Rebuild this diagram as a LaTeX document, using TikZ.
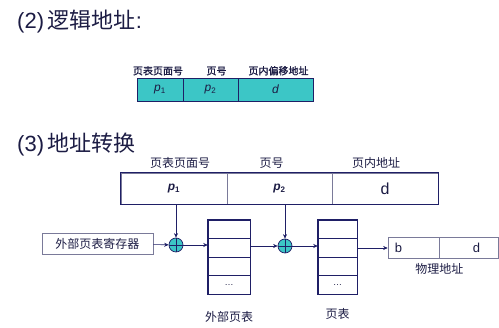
\documentclass[tikz,border=0pt]{standalone}
\usepackage{fontspec}
\setmainfont{Liberation Sans}
\newfontfamily\cjk{Noto Sans CJK SC}
\newfontfamily\cjkbf[FakeBold=1.2]{Noto Sans CJK SC}
\usepackage{xcolor}
\definecolor{cNavy} {HTML}{1F1F66}
\definecolor{cText} {HTML}{1C1C44}
\definecolor{cCyan} {HTML}{3CC6C6}
\definecolor{cGrey} {HTML}{7A7A99}
\usepackage{tikz}
\usetikzlibrary{arrows.meta, positioning}
\tikzset{
  cell/.style  = {rectangle, draw=cNavy, line width=0.8pt, fill=cCyan,
                  minimum width=#1, minimum height=23, inner sep=0pt,
                  font=\large, text=cText},
  cell/.default = 40,
  fld/.style   = {rectangle, draw=cGrey, line width=0.6pt,
                  minimum width=#1, minimum height=31, inner sep=0pt,
                  font=\large, text=cText},
  fld/.default = 105,
  row/.style   = {rectangle, draw=cNavy, line width=0.5pt,
                  minimum height=18.5, inner sep=0pt, font=\small,
                  text=cText},
  lbl/.style   = {font=\cjk\fontsize{12}{14}\selectfont, text=cText,
                  inner sep=1pt},
  arr/.style   = {-{Stealth[length=4.5pt,width=4pt]}, draw=cNavy,
                  line width=0.6pt},
}

\begin{document}
\begin{tikzpicture}[
  x=1pt, y=-1pt,
  title/.style={anchor=west, inner sep=0pt, text=cText,
                font=\fontsize{22}{24}\selectfont},
  adder/.style={circle, draw=cNavy, fill=cCyan, line width=0.7pt,
                minimum size=14, inner sep=0pt,
                path picture={
                  \draw[cNavy, line width=0.9pt]
                    (path picture bounding box.north) --
                    (path picture bounding box.south)
                    (path picture bounding box.west) --
                    (path picture bounding box.east);}},
]
  \useasboundingbox (0,0) rectangle (499,328);

  %% (2) logical address
  \node[title] (t2) at (17,22) {(2)\,{\cjk 逻辑地址}:};

  \node[cell=46]  (c1) at (160,89.5)   {\textit{p}\textsubscript{1}};
  \node[cell=55]  (c2) at (210.5,89.5) {\textit{p}\textsubscript{2}};
  \node[cell=75]  (c3) at (275.5,89.5) {\textit{d}};

  \node[lbl, font=\cjkbf\fontsize{10}{12}\selectfont, above=1pt of c1,
        xshift=-2pt] {页表页面号};
  \node[lbl, font=\cjkbf\fontsize{10}{12}\selectfont, above=1pt of c2,
        xshift=6pt]  {页号};
  \node[lbl, font=\cjkbf\fontsize{10}{12}\selectfont, above=1pt of c3,
        xshift=3pt]  {页内偏移地址};

  %% (3) address translation
  \node[title] (t3) at (17,145) {(3)\,{\cjk 地址转换}};

  \node[fld=106] (f1) at (174,188.5) {\textbf{\textit{p}}\textsubscript{\textbf{1}}};
  \node[fld=105] (f2) at (279.5,188.5) {\textbf{\textit{p}}\textsubscript{\textbf{2}}};
  \node[fld=106] (f3) at (385,188.5) {\fontsize{16}{18}\selectfont d};
  \draw[cNavy, line width=1.4pt] (f1.north west) rectangle (f3.south east);

  \node[lbl, above=3pt of f1, xshift=6pt]  {页表页面号};
  \node[lbl, above=3pt of f2, xshift=-8pt] {页号};
  \node[lbl, above=3pt of f3, xshift=-9pt] {页内地址};

  \node[rectangle, draw=cGrey, line width=0.6pt, minimum width=111,
        minimum height=21, inner sep=0pt, lbl] (reg) at (97.5,243.5)
        {外部页表寄存器};

  \node[adder] (add1) at (176,245) {};
  \node[adder] (add2) at (285,246) {};

  %% outer page table
  \foreach \i/\t in {1/{},2/{},3/{},4/{\ldots}}
    \node[row, minimum width=42] (e\i) at (229,{220+18.5*(\i-0.5)}) {\t};
  \draw[cNavy, line width=1.4pt] (e1.north west) rectangle (e4.south east);
  \node[lbl, below=16pt of e4] {外部页表};

  %% page table
  \foreach \i/\t in {1/{},2/{},3/{},4/{\ldots}}
    \node[row, minimum width=39] (q\i) at (337.5,{220+18.5*(\i-0.5)}) {\t};
  \draw[cNavy, line width=1.4pt] (q1.north west) rectangle (q4.south east);
  \node[lbl, below=13pt of q4] {页表};

  %% physical address
  \node[rectangle, draw=cGrey, line width=0.6pt, minimum width=51,
        minimum height=21, inner sep=0pt, text=cText,
        font=\fontsize{13}{15}\selectfont] (b) at (413.5,248) {\hspace{-30pt}b};
  \node[rectangle, draw=cGrey, line width=0.6pt, minimum width=59,
        minimum height=21, inner sep=0pt, text=cText,
        font=\fontsize{13}{15}\selectfont] (d) at (468.5,248) {\hspace{16pt}d};
  \node[lbl, below=3pt of b.south east] {物理地址};

  \draw[arr] (add1 |- f1.south) -- (add1);
  \draw[arr] (add2 |- f2.south) -- (add2);
  \draw[arr] (reg) -- (add1);
  \draw[arr] (add1) -- (add1 -| e1.west);
  \draw[arr] (add2 -| e1.east) -- (add2);
  \draw[arr] (add2) -- (add2 -| q1.west);
  \draw[arr] (q1.east |- b) -- (b);

\end{tikzpicture}
\end{document}
